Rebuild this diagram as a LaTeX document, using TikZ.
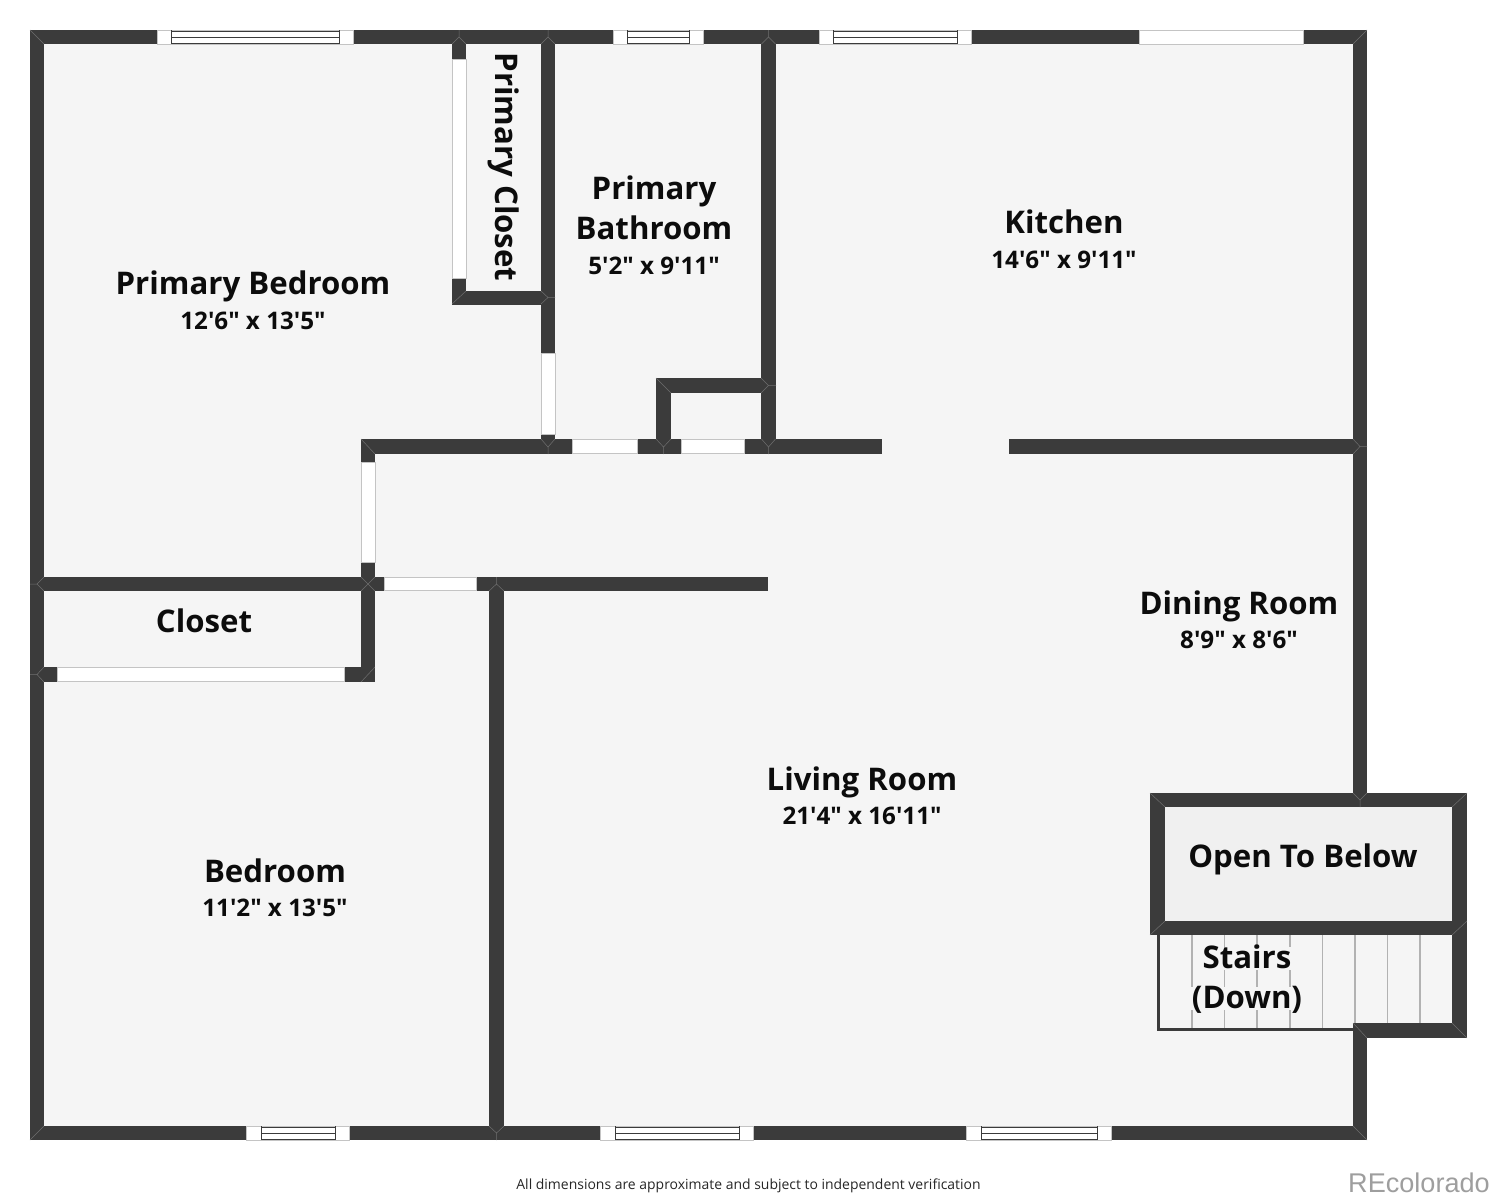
\documentclass[tikz,border=0pt]{standalone}
\usepackage{fontspec}
\setmainfont{Open Sans}[Ligatures=TeXOff]
\newfontfamily\arialish{Liberation Sans}
\definecolor{wallc}{HTML}{3B3B3B}
\definecolor{floorc}{HTML}{F5F5F5}
\definecolor{openc}{HTML}{F0F0F0}
\definecolor{edgec}{HTML}{C4C4C4}
\definecolor{miterc}{HTML}{6E6E6E}
\definecolor{stepc}{HTML}{B2B2B2}
\definecolor{inkc}{HTML}{0C0C0C}
\tikzset{
  wall/.style={fill=wallc},
  floorarea/.style={fill=floorc},
  gap/.style={fill=white,draw=edgec,line width=0.9pt},
  rail/.style={draw=wallc,line width=0.9pt},
  miter/.style={draw=miterc,line width=0.5pt},
  steprule/.style={draw=stepc,line width=1.6pt},
  roomname/.style={anchor=base,inner sep=0pt,yshift=-0.7pt,font=\fontsize{31.2}{36}\selectfont\bfseries,text=inkc},
  roomsize/.style={anchor=base,inner sep=0pt,font=\fontsize{24.2}{30}\selectfont\bfseries,text=inkc},
}
\newcommand{\framedwin}[6]{%
  \path[gap] (#1,#5) rectangle (#4,#6);
  \draw[rail] (#2,#5) -- (#2,#6) (#3,#5) -- (#3,#6);
  \draw[rail] (#2,#5+1) -- (#3,#5+1) (#2,#5+7) -- (#3,#5+7) (#2,#6-0.5) -- (#3,#6-0.5);
}
\begin{document}
\begin{tikzpicture}[x=1pt,y=-1pt]
\useasboundingbox (0,0) rectangle (1497,1200);
% floors
\fill[floorarea] (30,30) rectangle (1367,1140);
\fill[floorarea] (1150,935) rectangle (1467,1031);
\fill[openc] (1150,793) rectangle (1467,935);
% stairs: treads, broken where the label sits on them
\foreach \sx in {1322.3,1354.7,1387.3,1420}{
  \draw[steprule] (\sx,935) -- (\sx,1029);
}
\draw[steprule] (1191.7,935) -- (1191.7,987) (1191.7,1010) -- (1191.7,1029);
\foreach \sx in {1224.3,1257,1289.7}{
  \draw[steprule] (\sx,935) -- (\sx,947) (\sx,970) -- (\sx,987) (\sx,1010) -- (\sx,1029);
}
\fill[wall] (1157,935) rectangle (1160,1031);
\fill[wall] (1157,1028) rectangle (1354,1031);
% outer walls
\fill[wall] (30,30) rectangle (1367,44);
\fill[wall] (30,1126) rectangle (1367,1140);
\fill[wall] (30,30) rectangle (44,1140);
\fill[wall] (1353,30) rectangle (1367,793);
\fill[wall] (1353,1023) rectangle (1367,1140);
% inner walls
\fill[wall] (452,30) rectangle (466,304);
\fill[wall] (452,291) rectangle (555,304.5);
\fill[wall] (541,30) rectangle (555,454);
\fill[wall] (761,30) rectangle (776,454);
\fill[wall] (656,378) rectangle (776,393);
\fill[wall] (656,378) rectangle (671,454);
\fill[wall] (361,439) rectangle (882,454);
\fill[wall] (1009,439) rectangle (1367,454);
\fill[wall] (361,439) rectangle (375,682);
\fill[wall] (30,577) rectangle (768,591);
\fill[wall] (489,577) rectangle (504,1140);
\fill[wall] (30,667) rectangle (375,682);
% open-to-below box
\fill[wall] (1150,793) rectangle (1467,807);
\fill[wall] (1150,921) rectangle (1467,935);
\fill[wall] (1150,793) rectangle (1165,935);
\fill[wall] (1452,793) rectangle (1467,1038);
\fill[wall] (1353,1023) rectangle (1467,1038);
% plain openings
\path[gap] (1139,30.5) rectangle (1303,44);
\path[gap] (452,59) rectangle (466,278);
\path[gap] (541,353) rectangle (555,434);
\path[gap] (572,439.5) rectangle (637,453.5);
\path[gap] (681,439.5) rectangle (744,453.5);
\path[gap] (361,462) rectangle (375,562);
\path[gap] (384,577.5) rectangle (476,590.5);
\path[gap] (57,667.5) rectangle (344,681.5);
% framed windows
\framedwin{157}{171}{339}{353}{30}{44}
\framedwin{613}{627}{689}{703}{30}{44}
\framedwin{819}{833}{957}{971}{30}{44}
\framedwin{246}{261}{335}{349}{1126}{1140}
\framedwin{600}{615}{739}{753}{1126}{1140}
\framedwin{966}{981}{1097}{1111}{1126}{1140}
% mitre joints
\draw[miter] (30,30) -- (44,44) (1367,30) -- (1353,44) (30,1140) -- (44,1126) (1367,1140) -- (1353,1126);
\draw[miter] (361,439) -- (375,454) (656,378) -- (671,393) (452,304) -- (466,291);
\draw[miter] (375,667) -- (361,682) (1150,793) -- (1165,807) (1467,793) -- (1452,807);
\draw[miter] (1150,935) -- (1165,921) (1353,1023) -- (1367,1038) (1467,1038) -- (1452,1023);
\draw[miter] (1467,921) -- (1452,935);
\foreach \jx in {459,548,768.5}{
  \draw[miter] (\jx,30) -- (\jx,37) (\jx-7,44) -- (\jx,37) (\jx+7,44) -- (\jx,37);
}
\foreach \jx in {548,768.5}{
  \draw[miter] (\jx-7,439) -- (\jx,447) (\jx+7,439) -- (\jx,447) (\jx,447) -- (\jx,454);
}
\draw[miter] (663.5,447) -- (656,439) (663.5,447) -- (671,439) (663.5,447) -- (663.5,454);
\draw[miter] (361,577) -- (375,591) (375,577) -- (361,591);
\draw[miter] (489,591) -- (496.5,584) (504,591) -- (496.5,584) (496.5,577) -- (496.5,584);
\draw[miter] (489,1126) -- (496.5,1133) (504,1126) -- (496.5,1133) (496.5,1133) -- (496.5,1140);
\draw[miter] (44,577) -- (37,584) (44,591) -- (37,584) (30,584) -- (37,584);
\draw[miter] (44,667) -- (37,674.5) (44,682) -- (37,674.5) (30,674.5) -- (37,674.5);
\draw[miter] (761,378) -- (768.5,385.5) (761,393) -- (768.5,385.5) (768.5,385.5) -- (776,385.5);
\draw[miter] (1353,439) -- (1360,446.5) (1353,454) -- (1360,446.5) (1360,446.5) -- (1367,446.5);
\draw[miter] (541,291) -- (548,297.5) (541,304) -- (548,297.5) (548,297.5) -- (555,297.5);
\draw[miter] (1353,793) -- (1360,800) (1367,793) -- (1360,800) (1360,800) -- (1360,807);
% labels
\node[roomname] (pb) at (253,294) {Primary Bedroom};
\node[roomsize] (pbs) at (253,329) {12'6" x 13'5"};
\node[roomname,rotate=-90] (pc) at (495.5,166.3) {Primary Closet};
\node[roomname] (ba) at (654,199) {Primary};
\node[roomname] (bb) at (654,239) {Bathroom};
\node[roomsize] (bs) at (654,274) {5'2" x 9'11"};
\node[roomname] (ki) at (1064,233) {Kitchen};
\node[roomsize] (kis) at (1064,268) {14'6" x 9'11"};
\node[roomname] (di) at (1239,614) {Dining Room};
\node[roomsize] (dis) at (1239,648) {8'9" x 8'6"};
\node[roomname] (li) at (862,790) {Living Room};
\node[roomsize] (lis) at (862,824) {21'4" x 16'11"};
\node[roomname] (be) at (275,882) {Bedroom};
\node[roomsize] (bes) at (275,916) {11'2" x 13'5"};
\node[roomname] (cl) at (204,632) {Closet};
\node[roomname] (op) at (1303,867) {Open To Below};
\node[roomname] (sa) at (1247,968) {Stairs};
\node[roomname] (sb) at (1247,1008) {(Down)};
\node[anchor=base,inner sep=0pt,font=\fontsize{13.95}{17}\selectfont,text=black!85] (note) at (748.5,1189.5) {All dimensions are approximate and subject to independent verification};
\node[anchor=base east,inner sep=0pt,font=\arialish\fontsize{27.1}{32}\selectfont,text=black!38] (brand) at (1490,1192) {REcolorado};
\end{tikzpicture}
\end{document}
